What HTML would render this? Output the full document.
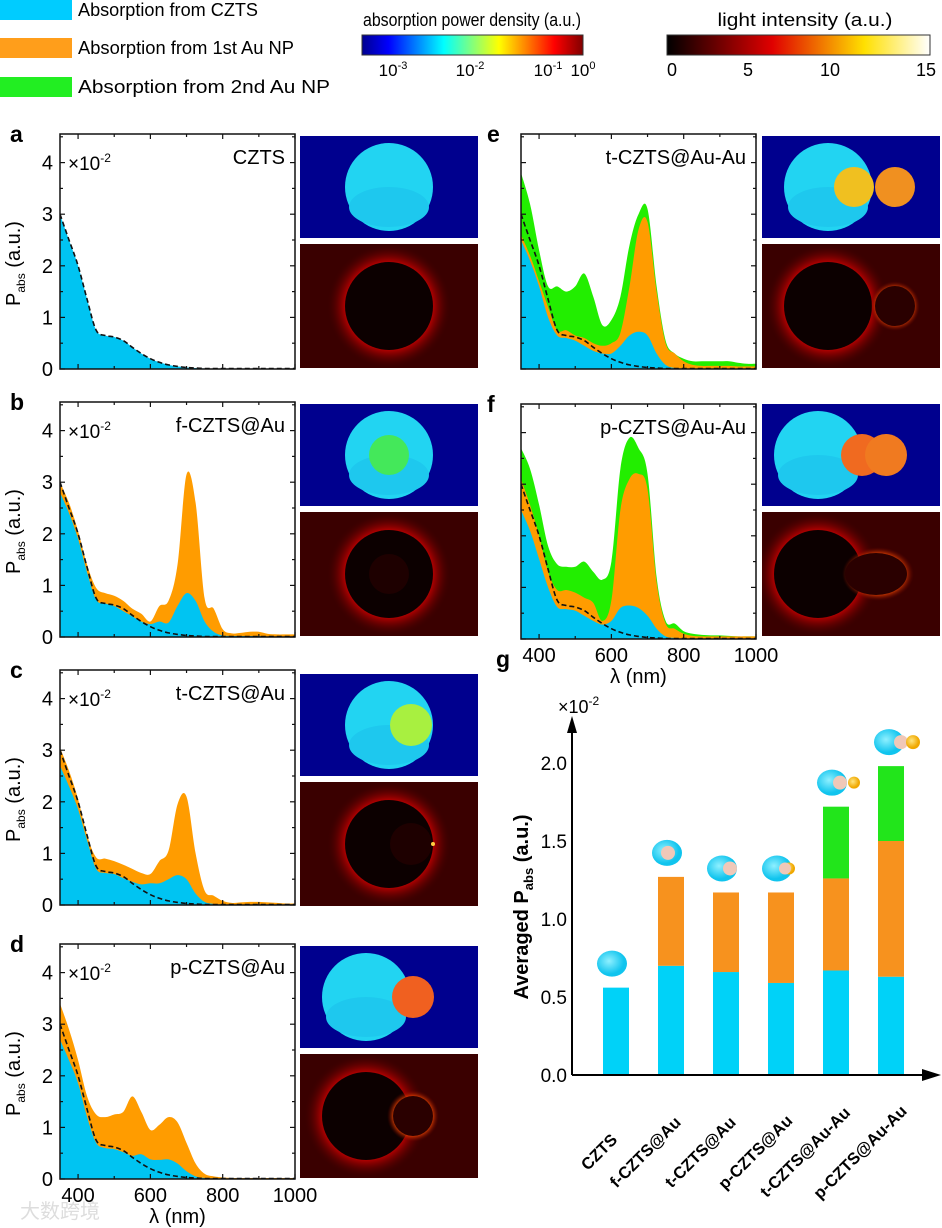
<!DOCTYPE html>
<html><head><meta charset="utf-8">
<style>
html,body{margin:0;padding:0;background:#fff;}
svg{display:block;font-family:"Liberation Sans","Noto Sans CJK SC",sans-serif;}
</style></head>
<body>
<svg id="fig" width="942" height="1228" viewBox="0 0 942 1228" xmlns="http://www.w3.org/2000/svg">
<defs>
<linearGradient id="jet" x1="0" x2="1" y1="0" y2="0">
<stop offset="0" stop-color="#00008f"/><stop offset="0.12" stop-color="#0000ff"/><stop offset="0.37" stop-color="#00ffff"/><stop offset="0.62" stop-color="#ffff00"/><stop offset="0.87" stop-color="#ff0000"/><stop offset="1" stop-color="#800000"/>
</linearGradient>
<linearGradient id="hot" x1="0" x2="1" y1="0" y2="0">
<stop offset="0" stop-color="#000"/><stop offset="0.4" stop-color="#e00000"/><stop offset="0.75" stop-color="#ffe000"/><stop offset="1" stop-color="#fff"/>
</linearGradient>
<radialGradient id="glow">
<stop offset="0.6" stop-color="#ff2000" stop-opacity="1"/><stop offset="0.72" stop-color="#c00000" stop-opacity="0.8"/><stop offset="1" stop-color="#400000" stop-opacity="0"/>
</radialGradient>
<radialGradient id="auglow">
<stop offset="0.55" stop-color="#ffe070"/><stop offset="0.7" stop-color="#ff5000"/><stop offset="1" stop-color="#600000" stop-opacity="0"/>
</radialGradient>
<radialGradient id="cyanball" cx="0.4" cy="0.4"><stop offset="0" stop-color="#8ff0ff"/><stop offset="1" stop-color="#10c4ee"/></radialGradient>
<radialGradient id="goldball" cx="0.4" cy="0.4"><stop offset="0" stop-color="#ffe680"/><stop offset="1" stop-color="#f0a800"/></radialGradient>
</defs>

<!-- legend -->
<g font-size="18">
<rect x="0" y="0" width="72" height="20" fill="#00ccff"/>
<text x="78" y="16" textLength="180" lengthAdjust="spacingAndGlyphs">Absorption from CZTS</text>
<rect x="0" y="38" width="72" height="20" fill="#ff9e1b"/>
<text x="78" y="54" textLength="216" lengthAdjust="spacingAndGlyphs">Absorption from 1st Au NP</text>
<rect x="0" y="77" width="72" height="20" fill="#22ee22"/>
<text x="78" y="93" textLength="252" lengthAdjust="spacingAndGlyphs">Absorption from 2nd Au NP</text>
</g>
<!-- colorbars -->
<g font-size="17">
<text x="472" y="26" text-anchor="middle" font-size="18" textLength="218" lengthAdjust="spacingAndGlyphs">absorption power density (a.u.)</text>
<rect x="362" y="35" width="221" height="20" fill="url(#jet)" stroke="#333" stroke-width="1"/>
<text x="393" y="76" text-anchor="middle">10<tspan dy="-7" font-size="11">-3</tspan></text>
<text x="470" y="76" text-anchor="middle">10<tspan dy="-7" font-size="11">-2</tspan></text>
<text x="548" y="76" text-anchor="middle">10<tspan dy="-7" font-size="11">-1</tspan></text>
<text x="583" y="76" text-anchor="middle">10<tspan dy="-7" font-size="11">0</tspan></text>
</g>
<g font-size="18">
<text x="805" y="26" text-anchor="middle" font-size="18" textLength="175" lengthAdjust="spacingAndGlyphs">light intensity (a.u.)</text>
<rect x="667" y="35" width="263" height="20" fill="url(#hot)" stroke="#333" stroke-width="1"/>
<text x="672" y="76" text-anchor="middle">0</text>
<text x="748" y="76" text-anchor="middle">5</text>
<text x="830" y="76" text-anchor="middle">10</text>
<text x="926" y="76" text-anchor="middle">15</text>
</g>
<text x="20" y="1218" font-size="20" fill="#ddd">大数跨境</text>
</svg>
<script>
// ---- spectra data (x10^-2) ----
const wl = [350,375,400,425,450,475,500,525,550,575,600,625,650,675,700,725,750,775,800,825,850,875,900,925,950,975,1000];
const cztsRef = [3.0,2.5,2.0,1.35,0.75,0.65,0.62,0.55,0.42,0.3,0.2,0.13,0.08,0.05,0.03,0.02,0.01,0.01,0.01,0.01,0.01,0.01,0.01,0.01,0.01,0.01,0.01];
const aCyan = [3.0,2.5,2.0,1.35,0.75,0.65,0.62,0.55,0.42,0.3,0.2,0.13,0.08,0.05,0.03,0.02,0.01,0.01,0.01,0.01,0.01,0.01,0.01,0.01,0.01,0.01,0.01];
const bCyan = [2.8,2.4,1.9,1.25,0.72,0.65,0.6,0.5,0.4,0.3,0.25,0.3,0.28,0.6,0.85,0.7,0.3,0.1,0.03,0.02,0.02,0.02,0.02,0.01,0.01,0.01,0.01];
const bOrange = [3.0,2.6,2.05,1.4,0.95,0.85,0.8,0.7,0.55,0.45,0.3,0.6,0.7,1.4,3.15,2.6,0.75,0.55,0.15,0.07,0.08,0.1,0.1,0.06,0.05,0.05,0.05];
const cCyan = [2.7,2.3,1.85,1.25,0.7,0.62,0.6,0.52,0.45,0.4,0.42,0.42,0.5,0.58,0.5,0.22,0.06,0.02,0.01,0.01,0.01,0.01,0.01,0.01,0.01,0.01,0.01];
const cOrange = [3.05,2.6,2.05,1.35,0.92,0.9,0.85,0.78,0.7,0.62,0.6,0.85,1.05,1.95,2.1,1.0,0.28,0.18,0.08,0.04,0.05,0.06,0.06,0.05,0.04,0.03,0.03];
const dCyan = [2.7,2.3,1.85,1.2,0.7,0.6,0.58,0.52,0.45,0.48,0.38,0.37,0.38,0.3,0.15,0.05,0.02,0.01,0.01,0.01,0.01,0.01,0.01,0.01,0.01,0.01,0.01];
const dOrange = [3.4,2.9,2.3,1.6,1.25,1.2,1.25,1.3,1.6,1.3,0.95,1.05,1.2,1.1,0.7,0.3,0.1,0.05,0.03,0.02,0.02,0.02,0.02,0.02,0.02,0.02,0.02];
const eCyan = [2.5,2.1,1.6,1.0,0.65,0.6,0.55,0.45,0.35,0.3,0.3,0.45,0.65,0.72,0.65,0.3,0.08,0.02,0.01,0.01,0.01,0.01,0.01,0.01,0.01,0.01,0.01];
const eOrange = [2.6,2.2,1.7,1.2,0.75,0.75,0.65,0.6,0.5,0.45,0.5,0.7,1.6,2.7,2.85,1.5,0.5,0.3,0.15,0.08,0.06,0.06,0.06,0.06,0.05,0.05,0.05];
const eGreen = [3.8,3.2,2.3,1.6,1.6,1.5,1.6,1.85,1.4,0.85,0.95,1.4,2.4,3.0,3.1,1.6,0.55,0.3,0.2,0.15,0.15,0.15,0.15,0.15,0.12,0.1,0.1];
const fCyan = [2.5,2.1,1.55,1.0,0.62,0.58,0.55,0.45,0.35,0.28,0.35,0.6,0.65,0.6,0.45,0.2,0.05,0.02,0.01,0.01,0.01,0.01,0.01,0.01,0.01,0.01,0.01];
const fOrange = [3.1,2.6,2.0,1.3,0.95,0.95,0.9,0.8,0.7,0.35,0.75,2.5,3.1,3.2,2.9,1.1,0.3,0.2,0.1,0.06,0.05,0.05,0.05,0.05,0.05,0.05,0.05];
const fGreen = [3.7,3.3,2.6,1.8,1.45,1.4,1.4,1.5,1.3,1.15,1.5,3.3,3.9,3.7,3.2,1.2,0.35,0.3,0.15,0.1,0.08,0.07,0.07,0.06,0.05,0.05,0.05];
const yTicks = [0,1,2,3,4];
const xTicks = [400,600,800,1000];

// ---- bar chart data (x10^-2) ----
const barCategories = ["CZTS","f-CZTS@Au","t-CZTS@Au","p-CZTS@Au","t-CZTS@Au-Au","p-CZTS@Au-Au"];
const barCzts = [0.56,0.70,0.66,0.59,0.67,0.63];
const barAu1 = [0,0.57,0.51,0.58,0.59,0.87];
const barAu2 = [0,0,0,0,0.46,0.48];
const barTicks = ["0.0","0.5","1.0","1.5","2.0"];

const NS = "http://www.w3.org/2000/svg";
const svg = document.getElementById('fig');
function mk(tag, attrs, parent){
  const e = document.createElementNS(NS, tag);
  for (const k in attrs) e.setAttribute(k, attrs[k]);
  (parent||svg).appendChild(e);
  return e;
}
const C_CYAN = "#00c4f2", C_OR = "#ff9c00", C_GR = "#22ee00";
const PW = 235, PH = 235, YMAX = 235/51.6;

function smoothPath(pts){
  let d = "";
  for (let i=0;i<pts.length-1;i++){
    const p0 = pts[Math.max(i-1,0)], p1 = pts[i], p2 = pts[i+1], p3 = pts[Math.min(i+2,pts.length-1)];
    const c1x = p1[0]+(p2[0]-p0[0])/6, c1y = p1[1]+(p2[1]-p0[1])/6;
    const c2x = p2[0]-(p3[0]-p1[0])/6, c2y = p2[1]-(p3[1]-p1[1])/6;
    d += " C"+c1x.toFixed(1)+","+c1y.toFixed(1)+" "+c2x.toFixed(1)+","+c2y.toFixed(1)+" "+p2[0].toFixed(1)+","+p2[1].toFixed(1);
  }
  return d;
}

let clipId = 0;
function drawPanel(px, py, layers, name, letter, label, showY, showX){
  const g = mk('g', {});
  
  
  const xs = v => px + (v-350)/650*PW;
  const ys = v => py + PH - v/YMAX*PH;
  const cid = 'clip'+(clipId++);
  const cp = mk('clipPath', {id:cid}, g);
  mk('rect', {x:px, y:py, width:PW, height:PH}, cp);
  const area = mk('g', {'clip-path':'url(#'+cid+')'}, g);
  for (const L of layers){
    const pts = wl.map((w,i)=>[xs(w), ys(L.vals[i])]);
    const p = mk('path', {d:"M"+xs(350)+","+ys(0)+" L"+pts[0][0]+","+pts[0][1]+smoothPath(pts)+" L"+xs(1000)+","+ys(0)+" Z", fill:L.color}, area);
    
    
  }
  const dpts = wl.map((w,i)=>[xs(w), ys(cztsRef[i])]);
  const dl = mk('path', {d:"M"+dpts[0][0]+","+dpts[0][1]+smoothPath(dpts), fill:"none", stroke:"#111", "stroke-width":1.6, "stroke-dasharray":"5,3"}, area);
  
  
  const fr = mk('rect', {x:px, y:py, width:PW, height:PH, fill:"none", stroke:"#111", "stroke-width":1.5}, g);
  
  
  for (let v=0; v<=4.5; v+=0.5){
    const y = ys(v), len = (v%1===0)?5:3;
    mk('line', {x1:px, x2:px+len, y1:y, y2:y, stroke:"#111", "stroke-width":1.2}, g);
    mk('line', {x1:px+PW, x2:px+PW-len, y1:y, y2:y, stroke:"#111", "stroke-width":1.2}, g);
  }
  for (let w=400; w<=1000; w+=100){
    const x = xs(w), len = (w%200===0)?5:3;
    mk('line', {x1:x, x2:x, y1:py+PH, y2:py+PH-len, stroke:"#111", "stroke-width":1.2}, g);
    mk('line', {x1:x, x2:x, y1:py, y2:py+len, stroke:"#111", "stroke-width":1.2}, g);
  }
  if (showY){
    yTicks.forEach(v=>{
      const t = mk('text', {x:px-7, y:ys(v)+7, "text-anchor":"end", "font-size":20}, g);
      t.textContent = v;
      
      
    });
    const m = mk('text', {x:px+8, y:py+36, "font-size":19}, g);
    
    
    m.innerHTML = '×10<tspan dy="-8" font-size="12">-2</tspan>';
    const yt = mk('text', {transform:"translate("+(px-40)+","+(py+PH/2+12)+") rotate(-90)", "text-anchor":"middle", "font-size":20}, g);
    
    
    yt.innerHTML = 'P<tspan dy="5" font-size="12">abs</tspan><tspan dy="-5"> (a.u.)</tspan>';
  }
  if (showX){
    xTicks.forEach(w=>{
      const t = mk('text', {x:xs(w), y:py+PH+23, "text-anchor":"middle", "font-size":20}, g);
      t.textContent = w;
      
      
    });
    const xt = mk('text', {x:px+PW/2, y:py+PH+44, "text-anchor":"middle", "font-size":20}, g);
    xt.textContent = 'λ (nm)';
    
    
  }
  const lb = mk('text', {x:px+PW-10, y:py+30, "text-anchor":"end", "font-size":20}, g);
  lb.textContent = label;
  
  
  const lt = mk('text', {x:(showY? px-50 : px-34), y:py+8, "font-size":23, "font-weight":"bold"}, g);
  lt.textContent = letter;
  
  
}

drawPanel(60,134,[{vals:aCyan,color:C_CYAN,name:'czts-area'}],'czts','a','CZTS',true,false);
drawPanel(60,402,[{vals:bOrange,color:C_OR,name:'au1-area'},{vals:bCyan,color:C_CYAN,name:'czts-area'}],'f-czts-au','b','f-CZTS@Au',true,false);
drawPanel(60,670,[{vals:cOrange,color:C_OR,name:'au1-area'},{vals:cCyan,color:C_CYAN,name:'czts-area'}],'t-czts-au','c','t-CZTS@Au',true,false);
drawPanel(60,944,[{vals:dOrange,color:C_OR,name:'au1-area'},{vals:dCyan,color:C_CYAN,name:'czts-area'}],'p-czts-au','d','p-CZTS@Au',true,true);
drawPanel(521,134,[{vals:eGreen,color:C_GR,name:'au2-area'},{vals:eOrange,color:C_OR,name:'au1-area'},{vals:eCyan,color:C_CYAN,name:'czts-area'}],'t-czts-au-au','e','t-CZTS@Au-Au',false,false);
drawPanel(521,404,[{vals:fGreen,color:C_GR,name:'au2-area'},{vals:fOrange,color:C_OR,name:'au1-area'},{vals:fCyan,color:C_CYAN,name:'czts-area'}],'p-czts-au-au','f','p-CZTS@Au-Au',false,true);

// ---- field maps ----
function fieldMaps(x, ytop, w, kind, name){
  const g = mk('g', {});
  
  
  const h1 = 102, h2 = 124, y2 = ytop+108;
  const cid = 'clip'+(clipId++), cid2 = 'clip'+(clipId++);
  const c1 = mk('clipPath',{id:cid},g); mk('rect',{x:x,y:ytop,width:w,height:h1},c1);
  const c2 = mk('clipPath',{id:cid2},g); mk('rect',{x:x,y:y2,width:w,height:h2},c2);
  const top = mk('g',{'clip-path':'url(#'+cid+')'},g);
  
  
  const bot = mk('g',{'clip-path':'url(#'+cid2+')'},g);
  
  
  mk('rect',{x:x,y:ytop,width:w,height:h1,fill:"#00008e"},top);
  mk('rect',{x:x,y:y2,width:w,height:h2,fill:"#3a0000"},bot);
  let cx = x+w/2, r = 44;
  if (kind==='p' || kind==='tt') cx = x+66;
  if (kind==='pp') cx = x+56;
  const cy1 = ytop+51, cy2 = y2+62;
  mk('circle',{cx:cx,cy:cy1,r:r,fill:"#22d4f2"},top);
  mk('ellipse',{cx:cx,cy:cy1+20,rx:r-4,ry:20,fill:"#1ec8ee"},top);
  mk('circle',{cx:cx,cy:cy2,r:r+18,fill:"url(#glow)"},bot);
  mk('circle',{cx:cx,cy:cy2,r:r,fill:"#0c0000"},bot);
  if (kind==='f'){ mk('circle',{cx:cx,cy:cy1,r:20,fill:"#44e85a"},top); mk('circle',{cx:cx,cy:cy2,r:20,fill:"#1e0000"},bot); }
  if (kind==='t'){ mk('circle',{cx:cx+22,cy:cy1,r:21,fill:"#a8f040"},top); mk('circle',{cx:cx+22,cy:cy2,r:21,fill:"#1e0000"},bot); mk('circle',{cx:cx+44,cy:cy2,r:2,fill:"#ffd040"},bot); }
  if (kind==='p'){ mk('circle',{cx:cx+47,cy:cy1,r:21,fill:"#f06020"},top); mk('circle',{cx:cx+47,cy:cy2,r:26,fill:"url(#auglow)"},bot); mk('circle',{cx:cx+47,cy:cy2,r:20,fill:"#2a0000"},bot); }
  if (kind==='tt'){ mk('circle',{cx:cx+26,cy:cy1,r:20,fill:"#f0c020"},top); mk('circle',{cx:cx+67,cy:cy1,r:20,fill:"#f09020"},top); mk('circle',{cx:cx+67,cy:cy2,r:25,fill:"url(#auglow)"},bot); mk('circle',{cx:cx+67,cy:cy2,r:20,fill:"#2a0000"},bot); }
  if (kind==='pp'){ mk('circle',{cx:cx+44,cy:cy1,r:21,fill:"#f06a20"},top); mk('circle',{cx:cx+68,cy:cy1,r:21,fill:"#f07a20"},top); mk('ellipse',{cx:cx+60,cy:cy2,rx:36,ry:27,fill:"url(#auglow)"},bot); mk('ellipse',{cx:cx+58,cy:cy2,rx:31,ry:21,fill:"#2a0000"},bot); }
}
fieldMaps(300,136,178,'s','a');
fieldMaps(300,404,178,'f','b');
fieldMaps(300,674,178,'t','c');
fieldMaps(300,946,178,'p','d');
fieldMaps(762,136,178,'tt','e');
fieldMaps(762,404,178,'pp','f');

// ---- bar chart g ----
const gG = mk('g', {});


const y0 = 1075, unit = 156, ax = 572;
const yG = v => y0 - unit*v;
const xG = i => 616 + 55*i;
barCategories.forEach((c,i)=>{
  const segs = [[barCzts[i], "#00d2f8", 'czts'],[barAu1[i], "#f7921e", 'au1'],[barAu2[i], "#22e51b", 'au2']];
  let base = 0;
  segs.forEach(s=>{
    if (s[0] <= 0) return;
    const r = mk('rect',{x:xG(i)-13, y:yG(base+s[0]), width:26, height:unit*s[0], fill:s[1]}, gG);
    
    
    base += s[0];
  });
  const iy = yG(base) - 24, ix = xG(i) - 4;
  const ic = mk('g',{}, gG);
  
  
  mk('ellipse',{cx:ix+ (i===5?2:0), cy:iy, rx:15, ry:13, fill:"url(#cyanball)"}, ic);
  if (i===1) mk('circle',{cx:ix+1,cy:iy,r:7,fill:"#f0c8b8"}, ic);
  if (i===2) mk('circle',{cx:ix+8,cy:iy,r:7,fill:"#f0c8b8"}, ic);
  if (i===3){ mk('circle',{cx:ix+12,cy:iy,r:6,fill:"url(#goldball)"}, ic); mk('circle',{cx:ix+8,cy:iy,r:6,fill:"#f0c8b8"}, ic); }
  if (i===4){ mk('circle',{cx:ix+8,cy:iy,r:7,fill:"#f0c8b8"}, ic); mk('circle',{cx:ix+22,cy:iy,r:6,fill:"url(#goldball)"}, ic); }
  if (i===5){ mk('circle',{cx:ix+14,cy:iy,r:7,fill:"#f0c8b8"}, ic); mk('circle',{cx:ix+26,cy:iy,r:7,fill:"url(#goldball)"}, ic); }
  const off = 13 + (c.length-4)*1.75;
  const t = mk('text',{transform:"translate("+(xG(i)-off)+","+(1156)+") rotate(-45)", "text-anchor":"middle", "font-size":16.5, "font-weight":"bold"}, gG);
  t.textContent = c;
  
  
});
barTicks.forEach((s,i)=>{
  const v = parseFloat(s);
  const t = mk('text',{x:ax-5, y:yG(v)+7, "text-anchor":"end", "font-size":19}, gG);
  t.textContent = s;
  
  
});
const yAx = mk('line',{x1:ax,x2:ax,y1:y0,y2:730,stroke:"#000","stroke-width":2}, gG);


const yAr = mk('path',{d:"M"+(ax-5)+",733 L"+ax+",716 L"+(ax+5)+",733 Z",fill:"#000"}, gG);


const xAx = mk('line',{x1:ax,x2:925,y1:y0,y2:y0,stroke:"#000","stroke-width":2}, gG);


const xAr = mk('path',{d:"M922,"+(y0-6)+" L941,"+y0+" L922,"+(y0+6)+" Z",fill:"#000"}, gG);


const gm = mk('text',{x:558,y:713,"font-size":18}, gG);
gm.innerHTML = '×10<tspan dy="-8" font-size="12">-2</tspan>';


const gt = mk('text',{transform:"translate(528,907) rotate(-90)","text-anchor":"middle","font-size":20,"font-weight":"bold"}, gG);
gt.innerHTML = 'Averaged P<tspan dy="5" font-size="13">abs</tspan><tspan dy="-5"> (a.u.)</tspan>';


const gl = mk('text',{x:496,y:667,"font-size":23,"font-weight":"bold"}, gG);
gl.textContent = 'g';


</script>
</body></html>
